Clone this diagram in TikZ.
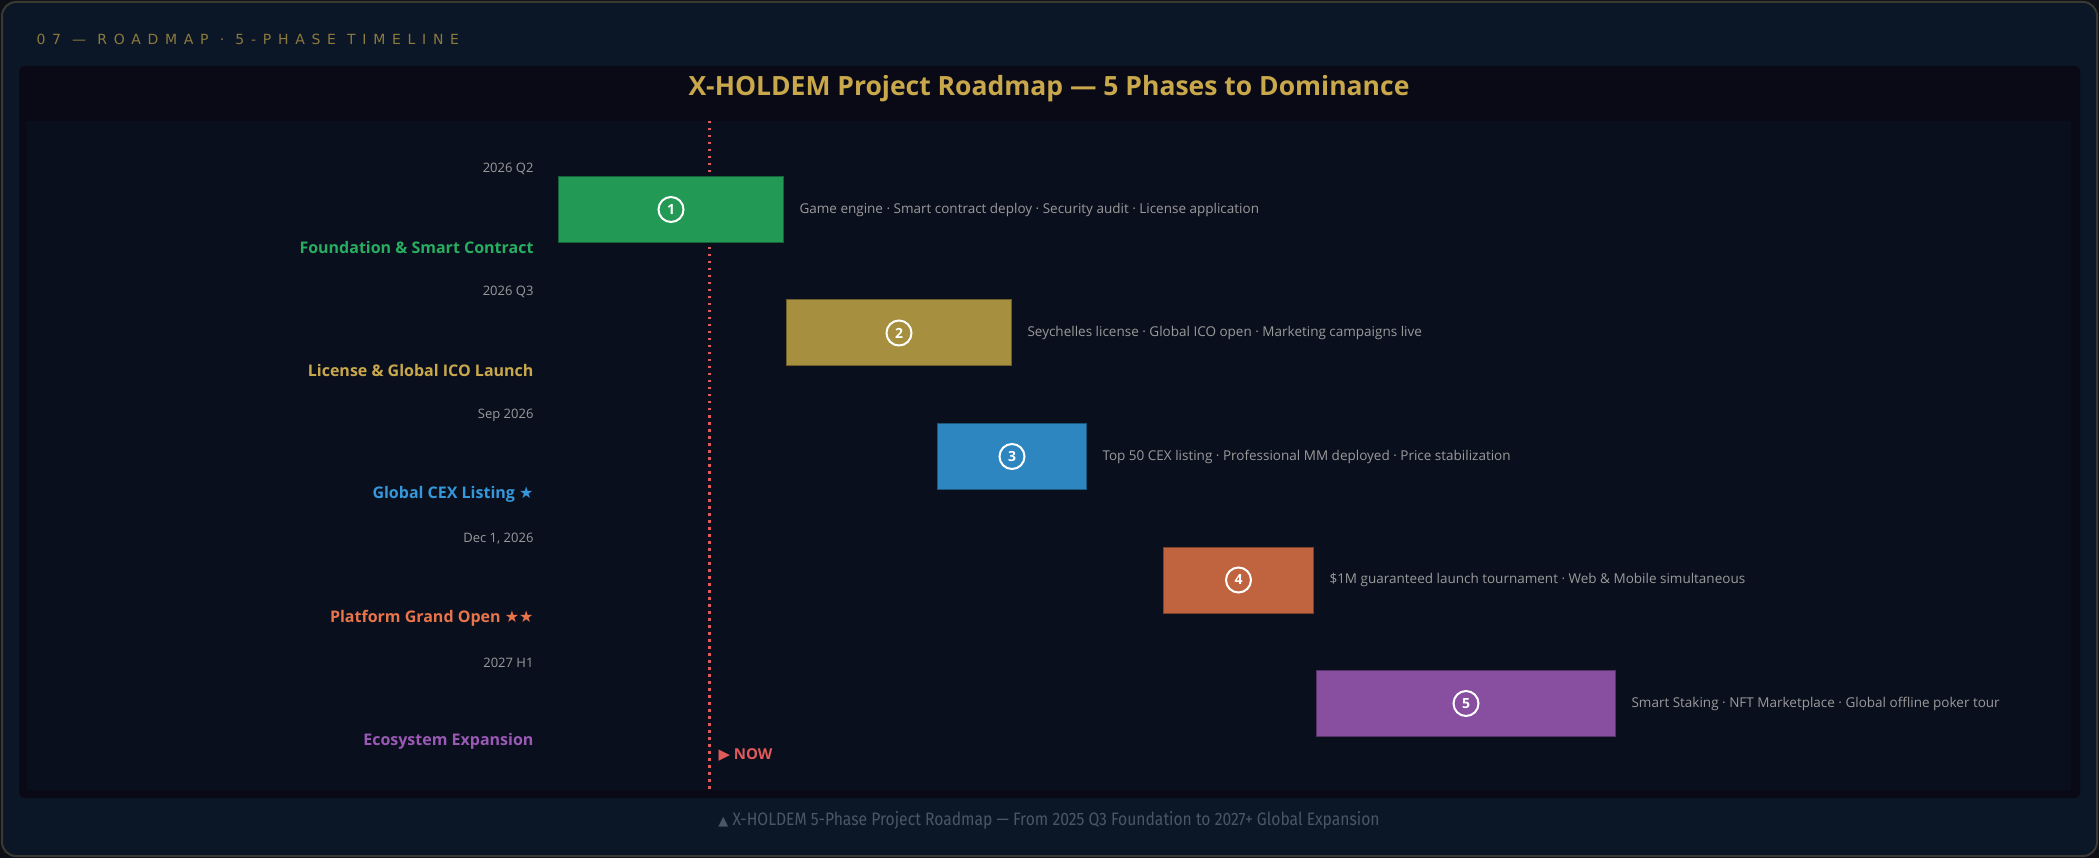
\documentclass[tikz,border=0pt]{standalone}
\usepackage{fontspec}
\setmainfont{Open Sans}
\newfontfamily\symfont{DejaVu Sans}
\newfontfamily\headfont[LetterSpace=48]{DejaVu Sans}
\newfontfamily\footfont[FakeStretch=0.87]{Fira Sans}

\definecolor{canvas}{HTML}{0D1117}
\definecolor{outerbg}{HTML}{0B1626}
\definecolor{framecol}{HTML}{3A3A32}
\definecolor{panelbg}{HTML}{0A0A17}
\definecolor{chartbg}{HTML}{0A0F1D}
\definecolor{gold}{HTML}{C9A84C}
\definecolor{headgold}{HTML}{8C7A3E}
\definecolor{txtgrey}{HTML}{9A9A9A}
\definecolor{footgrey}{HTML}{4A5566}
\definecolor{nowred}{HTML}{E05A5A}
\definecolor{barA}{HTML}{229954}
\definecolor{barB}{HTML}{A68F3F}
\definecolor{barC}{HTML}{2E86C1}
\definecolor{barD}{HTML}{C0643F}
\definecolor{barE}{HTML}{884EA0}
\definecolor{lblA}{HTML}{27AE60}
\definecolor{lblB}{HTML}{C9A84C}
\definecolor{lblC}{HTML}{3498DB}
\definecolor{lblD}{HTML}{E8744A}
\definecolor{lblE}{HTML}{9B59B6}

\begin{document}
\begin{tikzpicture}[x=1pt,y=-1pt,
  bar/.style={draw=#1!65!black, fill=#1, line width=1pt, inner sep=0pt,
    minimum height=66pt, anchor=west},
  numcirc/.style={circle, draw=white, line width=2pt, minimum size=25pt,
    inner sep=0pt, text=white, font=\fontsize{14}{14}\selectfont\bfseries},
  datelbl/.style={anchor=east, text=txtgrey, font=\fontsize{13}{15}\selectfont},
  phaselbl/.style={anchor=east, text=#1, font=\fontsize{16}{18}\selectfont\bfseries},
  desclbl/.style={anchor=west, text=txtgrey, font=\fontsize{13.5}{15}\selectfont}]

\useasboundingbox (0,0) rectangle (2099,858);
\fill[canvas] (0,0) rectangle (2099,858);
\draw[framecol, fill=outerbg, line width=2pt, rounded corners=14pt] (2,2) rectangle (2097,856);

% panel and chart area
\fill[panelbg, rounded corners=6pt] (19,66) rectangle (2080,798);
\fill[chartbg] (27,121) rectangle (2071,790);

\node[anchor=west, text=headgold, font=\headfont\fontsize{14}{16}\selectfont] (head) at (33,39)
  {07 — ROADMAP · 5-PHASE TIMELINE};
\node[text=gold, font=\fontsize{26.5}{30}\selectfont\bfseries] (title) at (1049,88.5)
  {X-HOLDEM Project Roadmap — 5 Phases to Dominance};

% now marker
\coordinate (nowtop) at (709.5,121);
\coordinate (nowbot) at (709.5,790);
\draw[nowred, line width=2.5pt, dash pattern=on 2.5pt off 4.5pt] (nowtop) -- (nowbot);
\node[anchor=west, text=nowred, font=\fontsize{15}{17}\selectfont\bfseries] (now) at (715,755)
  {{\symfont\fontsize{15}{17}\selectfont ▶} NOW};

% the five phases
\foreach \n/\xa/\w/\c/\d/\p/\t in {
  1/558/225/A/{2026 Q2}/{Foundation \& Smart Contract}/{Game engine · Smart contract deploy · Security audit · License application},
  2/786/225/B/{2026 Q3}/{License \& Global ICO Launch}/{Seychelles license · Global ICO open · Marketing campaigns live},
  3/937/149/C/{Sep 2026}/{Global CEX Listing {\symfont ★}}/{Top 50 CEX listing · Professional MM deployed · Price stabilization},
  4/1163/150/D/{Dec 1, 2026}/{Platform Grand Open {\symfont ★★}}/{\$1M guaranteed launch tournament · Web \& Mobile simultaneous},
  5/1316/299/E/{2027 H1}/{Ecosystem Expansion}/{Smart Staking · NFT Marketplace · Global offline poker tour}}
{
  \pgfmathsetmacro{\y}{209.5+(\n-1)*123.5}
  \node[bar=bar\c, minimum width=\w pt] (bar\n) at (\xa,\y) {};
  \node[numcirc] (num\n) at (bar\n.center) {\n};
  \node[desclbl] (desc\n) at ([xshift=12pt]bar\n.east) {\t};
  \node[datelbl] (date\n) at (537,\y-41) {\d};
  \node[phaselbl=lbl\c] (phase\n) at (537,\y+38) {\p};
};

\node[text=footgrey, font=\footfont\fontsize{18}{20}\selectfont] (foot) at (1049,820)
  {{\symfont\fontsize{13}{15}\selectfont ▲} X-HOLDEM 5-Phase Project Roadmap — From 2025 Q3 Foundation to 2027+ Global Expansion};
\end{tikzpicture}
\end{document}
